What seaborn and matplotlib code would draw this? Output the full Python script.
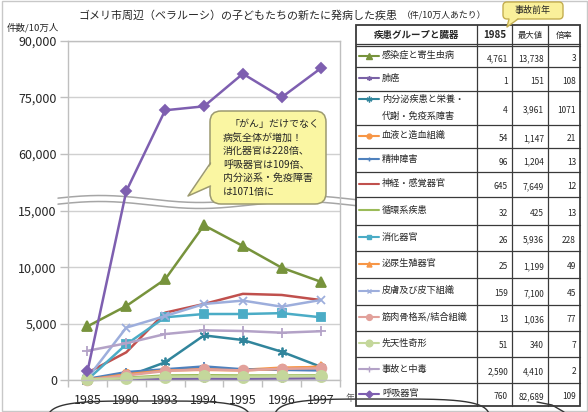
import numpy as np
import pandas as pd
import matplotlib
matplotlib.use("Agg")
import matplotlib.pyplot as plt
import matplotlib.transforms as mtransforms
from matplotlib.patches import FancyBboxPatch, Polygon, Rectangle
from matplotlib.ticker import NullLocator
import seaborn as sns

# ---------------- data ----------------
years = ["1985", "1990", "1993", "1994", "1995", "1996", "1997"]

groups = ["感染症と寄生虫病", "肺癌", "内分泌疾患と栄養・代謝・免疫系障害", "血液と造血組織",
          "精神障害", "神経・感覚器官", "循環系疾患", "消化器官", "泌尿生殖器官",
          "皮膚及び皮下組織", "筋肉骨格系/結合組織", "先天性奇形", "事故と中毒", "呼吸器官"]
group_labels = ["感染症と寄生虫病", "肺癌", "内分泌疾患と栄養・\n代謝・免疫系障害", "血液と造血組織",
                "精神障害", "神経・感覚器官", "循環系疾患", "消化器官", "泌尿生殖器官",
                "皮膚及び皮下組織", "筋肉骨格系/結合組織", "先天性奇形", "事故と中毒", "呼吸器官"]

v_infect = [4761, 6570, 8940, 13738, 11900, 9970, 8730]
v_lung = [1, 50, 100, 120, 110, 130, 151]
v_endo = [4, 300, 1570, 3961, 3550, 2510, 1180]
v_blood = [54, 600, 900, 1000, 900, 1100, 1147]
v_mental = [96, 700, 950, 1204, 950, 900, 850]
v_nerve = [645, 2460, 5980, 6750, 7649, 7550, 7100]
v_circ = [32, 200, 400, 425, 400, 400, 410]
v_digest = [26, 3170, 5570, 5860, 5860, 5936, 5570]
v_uro = [25, 500, 850, 900, 850, 1000, 1199]
v_skin = [159, 4650, 5680, 6750, 7050, 6510, 7100]
v_muscle = [13, 400, 800, 950, 850, 1000, 1036]
v_congen = [51, 150, 300, 320, 300, 330, 340]
v_accident = [2590, 3260, 4080, 4410, 4350, 4200, 4330]
v_resp = [760, 50000, 71550, 72600, 81280, 75000, 82689]

table_1985 = ["4,761", "1", "4", "54", "96", "645", "32", "26", "25", "159", "13", "51", "2,590", "760"]
table_max = ["13,738", "151", "3,961", "1,147", "1,204", "7,649", "425", "5,936", "1,199",
             "7,100", "1,036", "340", "4,410", "82,689"]
table_ratio = ["3", "108", "1071", "21", "13", "12", "13", "228", "49", "45", "77", "7", "2", "109"]

y_ticks = [0, 5000, 10000, 15000, 60000, 75000, 90000]
y_tick_labels = ["0", "5,000", "10,000", "15,000", "60,000", "75,000", "90,000"]

title = "ゴメリ市周辺（ベラルーシ）の子どもたちの新たに発病した疾患"
subtitle = "（件/10万人あたり）"
callout_lines = ["「がん」だけでなく", "病気全体が増加！", "消化器官は228倍、",
                 "呼吸器官は109倍、", "内分泌系・免疫障害", "は1071倍に"]

all_values = [v_infect, v_lung, v_endo, v_blood, v_mental, v_nerve, v_circ, v_digest,
              v_uro, v_skin, v_muscle, v_congen, v_accident, v_resp]

rows = []
for g, vals in zip(groups, all_values):
    for yr, v in zip(years, vals):
        rows.append((yr, v, g))
df = pd.DataFrame(rows, columns=["year", "value", "group"])

# ---------------- styles ----------------
styles = {
    "感染症と寄生虫病": dict(color="#77933C", marker="^", ms=6.5),
    "肺癌": dict(color="#7A62A6", marker=(6, 2, 0), ms=5),
    "内分泌疾患と栄養・代謝・免疫系障害": dict(color="#31859C", marker=(6, 2, 0), ms=7),
    "血液と造血組織": dict(color="#F79646", marker="o", ms=5.5),
    "精神障害": dict(color="#4F81BD", marker="+", ms=6),
    "神経・感覚器官": dict(color="#C0504D", marker=None, ms=0),
    "循環系疾患": dict(color="#9BBB59", marker=None, ms=0),
    "消化器官": dict(color="#4BACC6", marker="s", ms=6),
    "泌尿生殖器官": dict(color="#F79646", marker="^", ms=6),
    "皮膚及び皮下組織": dict(color="#9DAEDC", marker="x", ms=6),
    "筋肉骨格系/結合組織": dict(color="#E2A19B", marker="o", ms=7),
    "先天性奇形": dict(color="#C4D79B", marker="o", ms=8),
    "事故と中毒": dict(color="#B3A2C7", marker="+", ms=7),
    "呼吸器官": dict(color="#7E5FB0", marker="D", ms=5),
}

sns.set_style("white")
plt.rcParams["font.family"] = ["Noto Sans CJK JP", "DejaVu Sans"]
plt.rcParams["axes.unicode_minus"] = False

W, H = 588, 412
fig = plt.figure(figsize=(W / 100, H / 100), dpi=100)
px = mtransforms.Affine2D().scale(1 / W, -1 / H).translate(0, 1) + fig.transFigure

ax = fig.add_axes([68 / W, 1 - 380 / H, (340 - 68) / W, (380 - 41) / H])


def fwd(y):
    y = np.asarray(y, dtype=float)
    return np.where(y <= 15000, y / 1000.0,
                    np.where(y >= 45000, 15.1 + (y - 45000) / 3000.0,
                             15.0 + (y - 15000) / 300000.0))


def inv(f):
    f = np.asarray(f, dtype=float)
    return np.where(f <= 15, f * 1000.0,
                    np.where(f >= 15.1, 45000 + (f - 15.1) * 3000.0,
                             15000 + (f - 15) * 300000.0))


ax.set_yscale("function", functions=(fwd, inv))

for i, g in enumerate(groups):
    st = styles[g]
    kw = dict(color=st["color"], linewidth=1.8, legend=False, errorbar=None,
              clip_on=False, zorder=2 + i * 0.01)
    if st["marker"] is not None:
        kw.update(marker=st["marker"], markersize=st["ms"], markeredgecolor=st["color"],
                  markerfacecolor=st["color"], markeredgewidth=1.3)
    sns.lineplot(data=df[df["group"] == g], x="year", y="value", ax=ax, **kw)

ax.set_xlim(-0.5, 6.5)
ax.set_ylim(0, 90000)
ax.set_yticks(y_ticks)
ax.set_yticklabels(y_tick_labels)
ax.yaxis.set_minor_locator(NullLocator())
ax.set_xticks(range(len(years)))
ax.set_xticklabels(years)
ax.set_xticks(np.arange(-0.5, len(years)), minor=True)
ax.set_xlabel("")
ax.set_ylabel("")
ax.grid(axis="y", color="#D0D0D0", linewidth=1)
ax.set_axisbelow(True)
for s in ax.spines.values():
    s.set_color("#BFBFBF")
    s.set_linewidth(1)
ax.tick_params(axis="y", which="major", length=6, width=1, color="#BFBFBF",
               labelsize=9, labelcolor="#262626", pad=2, left=True)
ax.tick_params(axis="x", which="major", length=0, labelsize=9, labelcolor="#262626", pad=10)
ax.tick_params(axis="x", which="minor", length=5, width=1, color="#BFBFBF", bottom=True)

# wavy break
xw = np.linspace(58, 356, 300)
up = 199 - 3.5 * np.sin(2 * np.pi * (xw - 50) / 200)
lo = up + 6
poly = np.column_stack([np.concatenate([xw, xw[::-1]]), np.concatenate([up, lo[::-1]])])
ax.add_patch(Polygon(poly, closed=True, facecolor="white", edgecolor="none",
                     transform=px, clip_on=False, zorder=1.9))
ax.plot(xw, up, color="#A6A6A6", lw=1.1, transform=px, clip_on=False, zorder=1.95)
ax.plot(xw, lo, color="#A6A6A6", lw=1.1, transform=px, clip_on=False, zorder=1.95)

# ---------------- overlay (pixel coordinates) ----------------
ov = fig.add_axes([0, 0, 1, 1], zorder=10)
ov.set_xlim(0, W)
ov.set_ylim(H, 0)
ov.axis("off")
ov.patch.set_alpha(0)

txt = "#262626"
ov.text(78, 15, title, fontsize=7.9, color=txt, va="center", ha="left")
ov.text(402, 16, subtitle, fontsize=6.4, color=txt, va="center", ha="left")
ov.text(7, 28, "件数/10万人", fontsize=6.8, color=txt, va="center", ha="left")
ov.text(346, 399, "年", fontsize=6.5, color="#595959", va="center", ha="left")

# image frame
ov.add_patch(Rectangle((1.5, 1), W - 3, H - 2, fill=False, edgecolor="#C8C8C8", lw=1))

# callout bubble in chart
bub_fc, bub_ec = "#FAF6A2", "#9C9A70"
ov.add_patch(FancyBboxPatch((210, 111), 116, 93, boxstyle="round,pad=0,rounding_size=11",
                            facecolor=bub_fc, edgecolor=bub_ec, lw=1.1, zorder=3))
ov.add_patch(Polygon([(212, 163), (188, 196), (212, 186)], closed=True, facecolor=bub_fc,
                     edgecolor="none", zorder=4))
ov.plot([210.5, 188, 210.5], [163, 196, 186], color=bub_ec, lw=1.1, zorder=4)
for k, line in enumerate(callout_lines):
    xx = 230 if k == 0 else 223
    ov.text(xx, 124 + 13.6 * k, line, fontsize=7.2, color=txt, va="center", ha="left", zorder=5)

# "事故前年" callout
ov.add_patch(FancyBboxPatch((503, 2), 60, 17, boxstyle="round,pad=0,rounding_size=4",
                            facecolor="#FAF09A", edgecolor="#C4AE50", lw=1, zorder=3))
ov.add_patch(Polygon([(509, 18), (507, 27), (518, 18)], closed=True, facecolor="#FAF09A",
                     edgecolor="none", zorder=4))
ov.plot([509, 507, 518], [19, 27, 19], color="#C4AE50", lw=1, zorder=4)
ov.text(533, 10.5, "事故前年", fontsize=6.5, color=txt, va="center", ha="center", zorder=5)

# table
tl, tr = 356, 580
col_x = [477, 512, 548]
bounds = [25, 44, 67, 91, 125, 148, 172, 197, 225, 251, 278, 305, 331, 357, 383, 406]
lc = "#3A3A3A"
ov.add_patch(Rectangle((tl, bounds[0]), tr - tl, bounds[-1] - bounds[0], fill=False,
                       edgecolor=lc, lw=1.3, zorder=3))
for cx in col_x:
    ov.plot([cx, cx], [bounds[0], bounds[-1]], color=lc, lw=0.9, zorder=3)
for b in bounds[1:-1]:
    ov.plot([tl, tr], [b, b], color=lc, lw=0.9, zorder=3)
ov.plot([tl, tr], [45.5, 45.5], color=lc, lw=0.9, zorder=3)

hy = 35
ov.text((tl + col_x[0]) / 2, hy, "疾患グループと臓器", fontsize=6.8, fontweight="bold",
        color=txt, ha="center", va="center")
ov.text((col_x[0] + col_x[1]) / 2, hy, "1985", fontsize=7, fontweight="bold",
        color=txt, ha="center", va="center")
ov.text((col_x[1] + col_x[2]) / 2, hy, "最大値", fontsize=6, color=txt, ha="center", va="center")
ov.text((col_x[2] + tr) / 2, hy, "倍率", fontsize=6, color=txt, ha="center", va="center")

for i, g in enumerate(groups):
    top, bot = bounds[i + 1], bounds[i + 2]
    if i == 0:
        top = 46
    cy = (top + bot) / 2
    st = styles[g]
    if "\n" in group_labels[i]:
        ky = cy - 9
        l1, l2 = group_labels[i].split("\n")
        ov.text(382, cy - 9, l1, fontsize=6.6, color=txt, ha="left", va="center")
        ov.text(382, cy + 8, l2, fontsize=6.6, color=txt, ha="left", va="center")
    else:
        ky = cy - 1
        ov.text(382, ky, group_labels[i], fontsize=6.6, color=txt, ha="left", va="center")
    ov.plot([359, 379], [ky, ky], color=st["color"], lw=1.5, zorder=4)
    if st["marker"] is not None:
        ov.plot([369], [ky], marker=st["marker"], color=st["color"],
                markersize=max(3.5, st["ms"] * 0.6), markeredgecolor=st["color"],
                markeredgewidth=1, zorder=5)
    ny = cy + 2
    ov.text(col_x[1] - 4, ny, table_1985[i], fontsize=6, color=txt, ha="right", va="center")
    ov.text(col_x[2] - 4, ny, table_max[i], fontsize=6, color=txt, ha="right", va="center")
    ov.text(tr - 4, ny, table_ratio[i], fontsize=6, color=txt, ha="right", va="center")


# bottom bubble outlines (cut off by image border)
def superellipse(cx, cy, a, b, n=4):
    t = np.linspace(0, 2 * np.pi, 400)
    c, s = np.cos(t), np.sin(t)
    x = cx + a * np.sign(c) * np.abs(c) ** (2 / n)
    y = cy + b * np.sign(s) * np.abs(s) ** (2 / n)
    return x, y


for cx, cy, a, b in [(149, 427, 102, 26), (382, 425, 108, 26)]:
    x, y = superellipse(cx, cy, a, b)
    ov.plot(x, y, color="#333333", lw=1)
ov.plot([537, 552, 564], [402, 405, 412], color="#333333", lw=1)

fig.savefig("out.png", dpi=100)
